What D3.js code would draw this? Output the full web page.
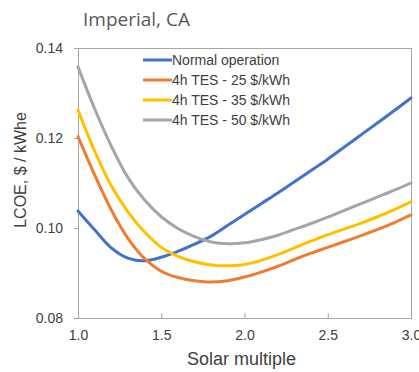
<!DOCTYPE html>
<html>
<head>
<meta charset="utf-8">
<script src="https://cdn.jsdelivr.net/npm/d3@7"></script>
<style>
  body { margin: 0; background: #fff; }
  svg { display: block; }
</style>
</head>
<body>
<div id="chart"></div>
<script>
// solar multiple, 1.0 .. 3.0
const solarMultiple = [1.0, 1.1, 1.2, 1.3, 1.4, 1.5, 1.6, 1.7, 1.8, 1.9, 2.0,
  2.1, 2.2, 2.3, 2.4, 2.5, 2.6, 2.7, 2.8, 2.9, 3.0];

// LCOE values ($/kWhe)
const normalOp = [0.1038, 0.0996, 0.0956, 0.0933, 0.0927, 0.0935, 0.0948, 0.0964, 0.0982, 0.1006, 0.1030,
  0.1054, 0.1078, 0.1103, 0.1128, 0.1153, 0.1180, 0.1207, 0.1234, 0.1261, 0.1289];
const tes25 = [0.1203, 0.1118, 0.1040, 0.0977, 0.0932, 0.0904, 0.0890, 0.0883, 0.0880, 0.0883, 0.0891,
  0.0902, 0.0915, 0.0930, 0.0944, 0.0957, 0.0970, 0.0983, 0.0997, 0.1012, 0.1029];
const tes35 = [0.1262, 0.1171, 0.1094, 0.1036, 0.0991, 0.0957, 0.0937, 0.0925, 0.0918, 0.0916, 0.0919,
  0.0928, 0.0941, 0.0956, 0.0971, 0.0985, 0.0998, 0.1011, 0.1025, 0.1041, 0.1058];
const tes50 = [0.1358, 0.1265, 0.1182, 0.1112, 0.1062, 0.1025, 0.0999, 0.0981, 0.0969, 0.0965, 0.0967,
  0.0974, 0.0984, 0.0997, 0.1010, 0.1024, 0.1039, 0.1054, 0.1069, 0.1084, 0.1100];

const seriesNames = ["Normal operation", "4h TES - 25 $/kWh", "4h TES - 35 $/kWh", "4h TES - 50 $/kWh"];
const seriesColors = ["#4472C4", "#ED7D31", "#FFC000", "#A5A5A5"];
const seriesValues = [normalOp, tes25, tes35, tes50];

const xTicks = [1.0, 1.5, 2.0, 2.5, 3.0];
const yTicks = [0.08, 0.10, 0.12, 0.14];

const W = 419, H = 372;
const margin = { top: 48, right: 8, bottom: 54, left: 78 };
const width = W - margin.left - margin.right;
const height = H - margin.top - margin.bottom;

const svg = d3.select("#chart").append("svg")
  .attr("width", W)
  .attr("height", H);

const g = svg.append("g")
  .attr("transform", `translate(${margin.left},${margin.top})`);

const x = d3.scaleLinear().domain([1.0, 3.0]).range([0, width]);
const y = d3.scaleLinear().domain([0.08, 0.14]).range([height, 0]);

// plot frame
g.append("rect")
  .attr("x", 0.5).attr("y", 0.5)
  .attr("width", width).attr("height", height)
  .attr("fill", "none")
  .attr("stroke", "#A6A6A6");

// x axis, ticks pointing inward
const xAxis = g.append("g")
  .attr("transform", `translate(0,${height})`)
  .call(d3.axisBottom(x).tickValues(xTicks).tickFormat(d3.format(".1f")).tickSizeInner(-5).tickSizeOuter(0).tickPadding(12));
xAxis.select(".domain").attr("stroke", "#A6A6A6");
xAxis.selectAll(".tick line").attr("stroke", "#A6A6A6");
xAxis.selectAll("text")
  .attr("fill", "#404040")
  .style("font-family", "Liberation Sans, Arial, sans-serif")
  .style("font-size", "14px");

const yAxis = g.append("g")
  .call(d3.axisLeft(y).tickValues(yTicks).tickFormat(d3.format(".2f")).tickSizeInner(4).tickSizeOuter(0).tickPadding(11));
yAxis.select(".domain").attr("stroke", "#A6A6A6");
yAxis.selectAll(".tick line").attr("stroke", "#A6A6A6");
yAxis.selectAll("text")
  .attr("fill", "#404040")
  .style("font-family", "Liberation Sans, Arial, sans-serif")
  .style("font-size", "14px");

// curves
const line = d3.line()
  .x((d, i) => x(solarMultiple[i]))
  .y(d => y(d))
  .curve(d3.curveCatmullRom.alpha(0.5));

seriesValues.forEach((vals, k) => {
  g.append("path")
    .datum(vals)
    .attr("d", line)
    .attr("fill", "none")
    .attr("stroke", seriesColors[k])
    .attr("stroke-width", 3)
    .attr("stroke-linejoin", "round")
    .attr("stroke-linecap", "round");
});

// legend
const legend = svg.append("g").attr("transform", "translate(143,60)");
seriesNames.forEach((name, k) => {
  const row = legend.append("g").attr("transform", `translate(0,${k * 20})`);
  row.append("line")
    .attr("x1", 0).attr("x2", 29)
    .attr("stroke", seriesColors[k])
    .attr("stroke-width", 3);
  row.append("text")
    .attr("x", 29)
    .attr("dy", "0.35em")
    .attr("fill", "#404040")
    .style("font-family", "Liberation Sans, Arial, sans-serif")
    .style("font-size", "14px")
    .text(name);
});

// titles
svg.append("text")
  .attr("x", 83).attr("y", 26)
  .attr("fill", "#595959")
  .style("font-family", "Open Sans, sans-serif")
  .style("font-size", "19px")
  .text("Imperial, CA");

svg.append("text")
  .attr("x", margin.left + width / 2 - 3).attr("y", 365)
  .attr("text-anchor", "middle")
  .attr("fill", "#404040")
  .style("font-family", "Liberation Sans, Arial, sans-serif")
  .style("font-size", "18px")
  .text("Solar multiple");

svg.append("text")
  .attr("transform", "translate(26,170) rotate(-90)")
  .attr("text-anchor", "middle")
  .attr("fill", "#404040")
  .style("font-family", "Liberation Sans, Arial, sans-serif")
  .style("font-size", "16px")
  .text("LCOE, $ / kWhe");
</script>
</body>
</html>
